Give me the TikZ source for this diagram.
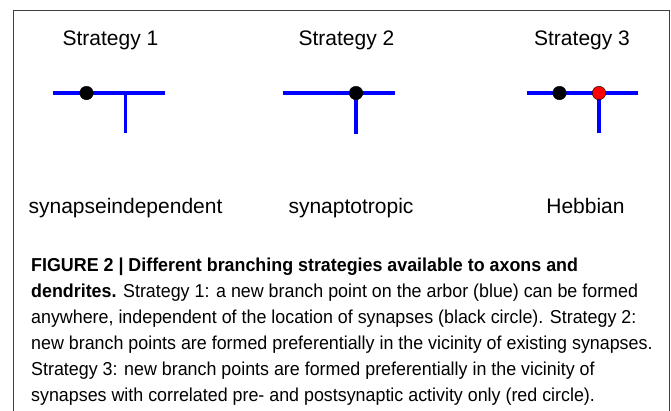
\documentclass[tikz,border=0pt]{standalone}
\usepackage{fontspec}
\setmainfont{Liberation Sans}
\newfontfamily\capfont[FakeStretch=0.955]{Liberation Sans}
\begin{document}
\begin{tikzpicture}[x=1pt,y=-1pt,
  arbor/.style={draw=blue,line width=3.3pt},
  syn/.style={circle,fill=black,draw=black,line width=0.4pt,minimum size=13.5pt,inner sep=0pt},
  hebb/.style={syn,fill=red},
  head/.style={font=\fontsize{21}{24}\selectfont,anchor=base,inner sep=0pt},
  capline/.style={font=\capfont\fontsize{18.7}{22}\selectfont,anchor=base west,inner sep=0pt}]
\useasboundingbox (0,0) rectangle (671,410);
% frame, open at the bottom
\draw[black!75,line width=0.9pt] (13,412) -- (13,10) -- (669,10) -- (669,412);

% headings
\node[head] (h1) at (110.5,45) {Strategy 1};
\node[head] (h2) at (346.5,45) {Strategy 2};
\node[head] (h3) at (582,45) {Strategy 3};

% strategy 1: branch point away from the synapse
\coordinate (a1l) at (53,93);
\coordinate (a1r) at (165,93);
\coordinate (b1) at (125.5,93);
\coordinate (b1e) at (125.5,133);
\draw[arbor] (a1l) -- (a1r);
\draw[arbor] (b1) -- (b1e);
\node[syn] (s1) at (86.5,93) {};

% strategy 2: branch point at the synapse
\coordinate (a2l) at (283,93);
\coordinate (a2r) at (395,93);
\coordinate (b2) at (356,93);
\coordinate (b2e) at (356,134);
\draw[arbor] (a2l) -- (a2r);
\draw[arbor] (b2) -- (b2e);
\node[syn] (s2) at (b2) {};

% strategy 3: branch point at the correlated synapse
\coordinate (a3l) at (526.5,93);
\coordinate (a3r) at (638,93);
\coordinate (b3) at (599,93);
\coordinate (b3e) at (599,133);
\draw[arbor] (a3l) -- (a3r);
\draw[arbor] (b3) -- (b3e);
\node[syn] (s3) at (559.5,93) {};
\node[hebb] (r3) at (b3) {};

% strategy names
\node[head] (n1) at (125.5,213) {synapseindependent};
\node[head] (n2) at (351,213) {synaptotropic};
\node[head] (n3) at (585.5,213) {Hebbian};

% caption
\node[capline] (c1) at (31,271.5) {\bfseries FIGURE 2 | Different branching strategies available to axons and};
\node[capline] (c2) at (31,297.5) {\textbf{dendrites.} Strategy 1: a new branch point on the arbor (blue) can be formed};
\node[capline] (c3) at (31,323.5) {anywhere, independent of the location of synapses (black circle). Strategy 2:};
\node[capline] (c4) at (31,349.5) {new branch points are formed preferentially in the vicinity of existing synapses.};
\node[capline] (c5) at (31,375.5) {Strategy 3: new branch points are formed preferentially in the vicinity of};
\node[capline] (c6) at (31,401.5) {synapses with correlated pre- and postsynaptic activity only (red circle).};
\end{tikzpicture}
\end{document}
